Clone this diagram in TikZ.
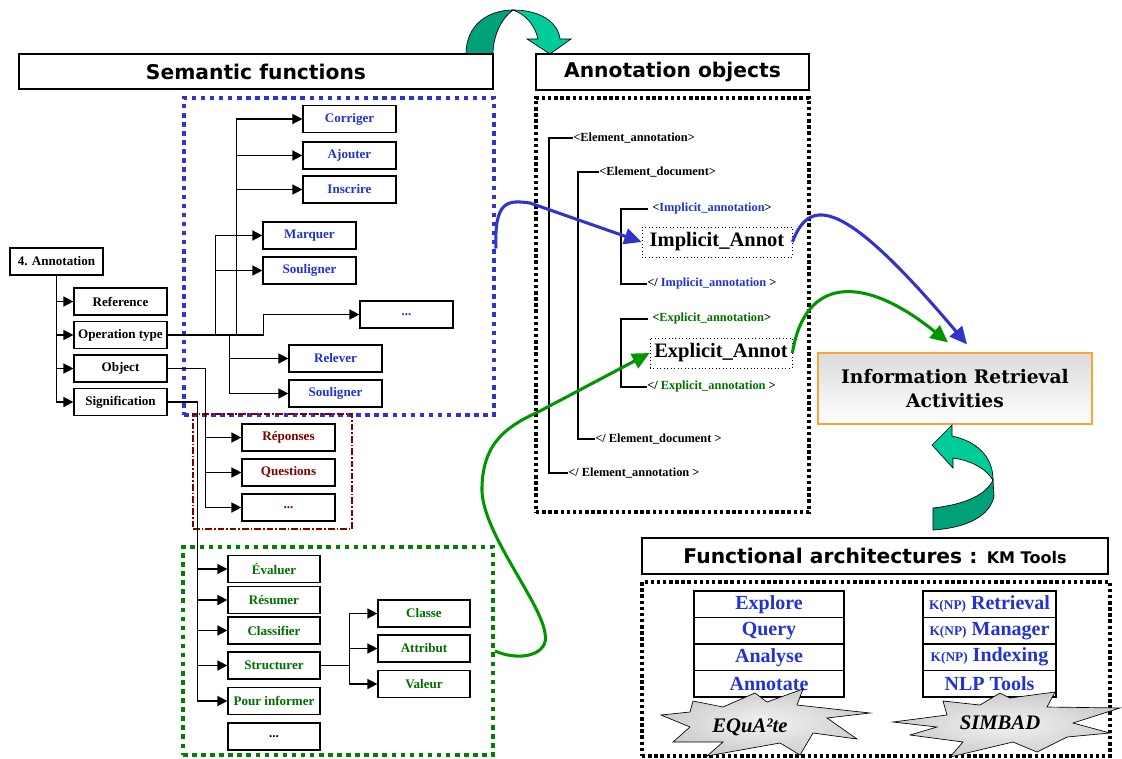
\documentclass[tikz,border=0pt]{standalone}
\usepackage{fontspec}
\setmainfont{Liberation Serif}
\newfontfamily\headfont{DejaVu Sans}
\newfontfamily\irafont{DejaVu Serif}
\usetikzlibrary{arrows.meta,calc}
\definecolor{myblue}{RGB}{35,50,210}
\definecolor{dotblue}{RGB}{51,51,204}
\definecolor{myred}{RGB}{128,0,0}
\definecolor{mygreen}{RGB}{0,110,0}
\definecolor{dotgreen}{RGB}{0,128,0}
\definecolor{curvegreen}{RGB}{0,150,0}
\definecolor{curveblue}{RGB}{51,51,204}
\definecolor{tealA}{RGB}{0,204,153}
\definecolor{tealB}{RGB}{0,160,122}
\definecolor{irabord}{RGB}{250,165,50}
\begin{document}
\begin{tikzpicture}[x=0.75pt,y=-0.75pt,
  tbox/.style={draw, line width=0.9pt, fill=white, minimum width=69.75pt, minimum height=20.25pt, inner sep=0pt, font=\fontsize{9.8pt}{11pt}\selectfont\bfseries},
  bl/.style={tbox, text=myblue},
  rd/.style={tbox, text=myred},
  gr/.style={tbox, text=mygreen, minimum width=69pt},
  tarr/.style={line width=1.1pt, -{Triangle[length=7.5pt,width=7.5pt]}},
  brk/.style={line width=0.9pt},
  ccurve/.style={line width=2.3pt, -{Triangle[length=13pt,width=12pt]}},
  bdot/.style={draw=dotblue, line width=3pt, dash pattern=on 3.4pt off 3.4pt},
  gdot/.style={draw=dotgreen, line width=3pt, dash pattern=on 3.4pt off 3.4pt},
  kdot/.style={draw=black, line width=2.8pt, dash pattern=on 2.6pt off 2pt},
  hbox/.style={draw, line width=0.9pt, fill=white, inner sep=0pt, font=\headfont\bfseries\fontsize{15.2pt}{18pt}\selectfont},
  tag/.style={inner sep=0pt, anchor=west, font=\fontsize{9.3pt}{11pt}\selectfont\bfseries},
  annot/.style={draw, dotted, line width=0.6pt, minimum height=22.5pt, inner sep=0pt, font=\fontsize{15.4pt}{17pt}\selectfont\bfseries},
  tool/.style={draw, line width=0.9pt, fill=white, minimum width=112.5pt, minimum height=19.875pt, inner sep=0pt, text=myblue, font=\fontsize{15pt}{16pt}\selectfont\bfseries},
  toolr/.style={tool, minimum width=99.75pt},
  star/.style={draw=black, line width=0.5pt, inner color=gray!10, outer color=gray!40},
  startext/.style={inner sep=0pt, font=\fontsize{15.5pt}{17pt}\selectfont\bfseries\itshape},
  ribbon/.style={draw=black, line width=0.5pt}
]
\path[use as bounding box] (0,0) rectangle (1122,758);

% dotted group frames
\node[bdot, minimum width=232.5pt, minimum height=237.75pt] (bluebox) at (339,256.5) {};
\node[draw=myred, line width=1pt, dash pattern=on 5pt off 1.5pt on 1.2pt off 1.5pt, minimum width=119.25pt, minimum height=86.25pt] (redbox) at (272.5,471.5) {};
\node[gdot, minimum width=232.5pt, minimum height=156pt] (greenbox) at (338,651) {};
\node[kdot, minimum width=204.75pt, minimum height=310.5pt] (annbox) at (672.5,305) {};
\node[kdot, minimum width=351pt, minimum height=130.5pt] (funcbox) at (876,669) {};

% top ribbon arrow
\fill[tealB] (466,54) .. controls (466,25) and (488,10) .. (513,10) .. controls (502,18) and (493,35) .. (493,54) -- cycle;
\draw[ribbon] (466,54) .. controls (466,25) and (488,10) .. (513,10) .. controls (502,18) and (493,35) .. (493,54);
\draw[ribbon, fill=tealA] (513,10) .. controls (540,10) and (558,22) .. (560,39) -- (571,39) -- (550,54) -- (527,39) -- (538,39) .. controls (535,25) and (525,14) .. (513,10) -- cycle;

% headings
\node[hbox, minimum width=355.5pt, minimum height=26.25pt] (semantic) at (256,71.5) {Semantic functions};
\node[hbox, minimum width=204.75pt, minimum height=27pt] (annobj) at (672.5,72) {Annotation objects};
\node[hbox, minimum width=349.5pt, minimum height=27pt] (funcarch) at (875,556) {Functional architectures : {\fontsize{12pt}{14pt}\selectfont KM Tools}};

% left tree
\node[tbox] (ann) at (56.5,261.5) {4. Annotation};
\node[tbox] (ref) at (120.5,301.5) {Reference};
\node[tbox] (optype) at (120.5,335) {Operation type};
\node[tbox] (object) at (120.5,368.5) {Object};
\node[tbox] (signif) at (120.5,402) {Signification};

\node[bl] (corriger) at (349.5,119) {Corriger};
\node[bl] (ajouter) at (349.5,155.5) {Ajouter};
\node[bl] (inscrire) at (349.5,189.5) {Inscrire};
\node[bl] (marquer) at (309.5,235.5) {Marquer};
\node[bl] (souligA) at (309.5,270.5) {Souligner};
\node[bl] (dotsA) at (406.5,314.5) {...};
\node[bl] (relever) at (335.5,358.5) {Relever};
\node[bl] (souligB) at (335.5,393.5) {Souligner};

\node[rd] (reponses) at (288.5,437.5) {Réponses};
\node[rd] (questions) at (288.5,472.5) {Questions};
\node[rd] (dotsB) at (288.5,507.5) {...};

\node[gr] (evaluer) at (274,569) {Évaluer};
\node[gr] (resumer) at (274,600) {Résumer};
\node[gr] (classifier) at (274,630.5) {Classifier};
\node[gr] (structurer) at (274,665.5) {Structurer};
\node[gr] (pourinf) at (274,701) {Pour informer};
\node[tbox, minimum width=69pt] (dotsC) at (274,736.5) {...};
\node[gr] (classe) at (424,613.5) {Classe};
\node[gr] (attribut) at (424,648.5) {Attribut};
\node[gr] (valeur) at (424,684) {Valeur};

% tree connectors
\foreach \t in {ref,optype,object,signif}
  \draw[tarr] (ann.south) |- (\t.west);
\foreach \t in {corriger,ajouter,inscrire}
  \draw[tarr] (optype.east) -- ++(69,0) |- (\t.west);
\foreach \t in {marquer,souligA}
  \draw[tarr] (optype.east) -- ++(48,0) |- (\t.west);
\draw[tarr] (optype.east) -- ++(96,0) |- (dotsA.west);
\foreach \t in {relever,souligB}
  \draw[tarr] (optype.east) -- ++(62,0) |- (\t.west);
\foreach \t in {reponses,questions,dotsB}
  \draw[tarr] (object.east) -- ++(38,0) |- (\t.west);
\foreach \t in {evaluer,resumer,classifier,structurer,pourinf}
  \draw[tarr] (signif.east) -- ++(30,0) |- (\t.west);
\foreach \t in {classe,attribut,valeur}
  \draw[tarr] (structurer.east) -- ++(29,0) |- (\t.west);

% annotation objects
\node[tag] (ea1) at (573,138) {<Element\_annotation>};
\node[tag] (ed1) at (599,172) {<Element\_document>};
\node[tag] (ia1) at (652,209) {<\textcolor{myblue}{Implicit\_annotation}>};
\node[tag] (ia2) at (647,284) {</ \textcolor{myblue}{Implicit\_annotation} >};
\node[tag] (xa1) at (652,319) {<\textcolor{mygreen}{Explicit\_annotation}>};
\node[tag] (xa2) at (647,387) {</ \textcolor{mygreen}{Explicit\_annotation} >};
\node[tag] (ed2) at (595,439) {</ Element\_document >};
\node[tag] (ea2) at (568,473) {</ Element\_annotation >};
\draw[brk] (ea1.west) -- ++(-24,0) |- (ea2.west);
\draw[brk] (ed1.west) -- ++(-21,0) |- (ed2.west);
\draw[brk] ([xshift=-3pt]ia1.west) -- ++(-27,0) |- (ia2.west);
\draw[brk] ([xshift=-3pt]xa1.west) -- ++(-27,0) |- (xa2.west);
\node[annot, minimum width=112.5pt] (impl) at (717,242) {Implicit\_Annot};
\node[annot, minimum width=106.5pt] (expl) at (721,353) {Explicit\_Annot};

% information retrieval
\node[draw=irabord, line width=0.9pt, top color=gray!28, bottom color=white, minimum width=205.5pt, minimum height=53.25pt, align=center, inner sep=0pt, font=\irafont\bfseries\fontsize{14pt}{18pt}\selectfont] (ira) at (955,388.5) {Information Retrieval\\Activities};

% bottom ribbon arrow
\draw[ribbon, fill=tealA] (932,445) -- (952,425) -- (952,436) .. controls (975,441) and (993,455) .. (993,480) .. controls (985,467) and (968,460) .. (953,458) -- (953,468) -- cycle;
\draw[ribbon, fill=tealB] (933,508) .. controls (960,505) and (985,497) .. (993,480) -- (994,496) .. controls (990,517) and (965,528) .. (933,530) -- cycle;

% tools
\node[tool] (explore) at (769,604.25) {Explore};
\node[tool] (query) at (769,630.75) {Query};
\node[tool] (analyse) at (769,657.25) {Analyse};
\node[tool] (annotate) at (769,683.75) {Annotate};
\node[toolr] (retrieval) at (989.5,604.25) {{\fontsize{10pt}{11pt}\selectfont K(NP)} Retrieval};
\node[toolr] (manager) at (989.5,630.75) {{\fontsize{10pt}{11pt}\selectfont K(NP)} Manager};
\node[toolr] (indexing) at (989.5,657.25) {{\fontsize{10pt}{11pt}\selectfont K(NP)} Indexing};
\node[toolr] (nlp) at (989.5,683.75) {NLP Tools};

% starbursts
\draw[star] (661,715) -- (690,712) -- (693,701) -- (723,707) -- (755,693) -- (767,702) -- (803,689) -- (797,705) -- (870,713) -- (827,718) -- (857,739) -- (813,733) -- (800,755) -- (780,743) -- (707,756) -- (723,742) -- (673,742) -- (690,727) -- cycle;
\node[startext] (equate) at (750,727) {EQuA²te};
\draw[star] (893,722) -- (947,715) -- (943,701) -- (980,705) -- (1000,693) -- (1010,698) -- (1055,692) -- (1047,707) -- (1120,708) -- (1073,723) -- (1110,733) -- (1067,737) -- (1037,752) -- (1013,742) -- (950,757) -- (963,742) -- (910,735) -- (937,727) -- cycle;
\node[startext] (simbad) at (1000,723) {SIMBAD};

% curved connectors
\draw[ccurve, curveblue] ([yshift=6pt]bluebox.east) .. controls (494,200) and (508,200) .. (530,203) -- (impl.west);
\draw[ccurve, curveblue] (impl.east) .. controls (810,195) and (845,200) .. ($(ira.north)+(12,-8)$);
\draw[ccurve, curvegreen] (greenbox.east) .. controls (520,662) and (550,655) .. (545,633) .. controls (540,600) and (480,530) .. (482,487) .. controls (483,440) and (510,425) .. (540,411) -- (expl.west);
\draw[ccurve, curvegreen] (expl.east) .. controls (805,275) and (865,275) .. ($(ira.north)+(-7,-10)$);
\end{tikzpicture}
\end{document}
